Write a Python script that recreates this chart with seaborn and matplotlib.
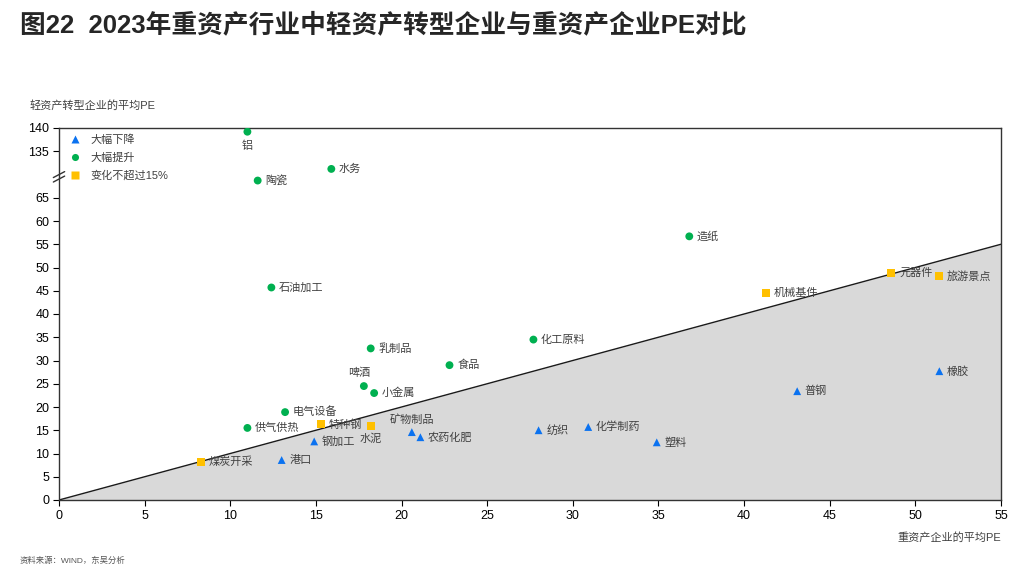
import numpy as np
import pandas as pd
import matplotlib
matplotlib.use('Agg')
import matplotlib.pyplot as plt
import seaborn as sns

# 数据（从图上读取，纵轴在65~135之间压缩）
names = ['铝', '陶瓷', '水务', '造纸', '石油加工', '化工原料', '乳制品', '食品', '啤酒', '小金属',
         '电气设备', '供气供热',
         '煤炭开采', '特种钢', '水泥', '机械基件', '元器件', '旅游景点',
         '钢加工', '港口', '矿物制品', '农药化肥', '纺织', '化学制药', '塑料', '普钢', '橡胶']
heavy_pe = [11.0, 11.6, 15.9, 36.8, 12.4, 27.7, 18.2, 22.8, 17.8, 18.4,
            13.2, 11.0,
            8.3, 15.3, 18.2, 41.3, 48.6, 51.4,
            14.9, 13.0, 20.6, 21.1, 28.0, 30.9, 34.9, 43.1, 51.4]
light_pe = [139.2, 90.9, 108.4, 56.7, 45.7, 34.5, 32.6, 29.0, 24.5, 23.0,
            18.9, 15.5,
            8.2, 16.3, 15.9, 44.6, 48.9, 48.1,
            12.6, 8.6, 14.6, 13.5, 15.0, 15.7, 12.4, 23.4, 27.7]
groups = ['大幅提升'] * 12 + ['变化不超过15%'] * 6 + ['大幅下降'] * 9
group_order = ['大幅下降', '大幅提升', '变化不超过15%']
yticks = [0, 5, 10, 15, 20, 25, 30, 35, 40, 45, 50, 55, 60, 65, 135, 140]
xticks = list(range(0, 60, 5))

df = pd.DataFrame({'name': names, 'x': heavy_pe, 'y': light_pe, 'group': groups})

sns.set_style('white')
plt.rcParams['font.family'] = ['Liberation Sans', 'Noto Sans CJK SC', 'DejaVu Sans']
plt.rcParams['axes.unicode_minus'] = False

# 断轴：65~135 压缩
real_pts = [-100, 0, 65, 135, 300]
disp_pts = [-100, 0, 65, 75, 240]


def fwd(v):
    return np.interp(v, real_pts, disp_pts)


def inv(v):
    return np.interp(v, disp_pts, real_pts)


fig = plt.figure(figsize=(10.24, 5.72), dpi=100)
ax = fig.add_axes([59 / 1024, 1 - 500 / 572, 942 / 1024, 372 / 572])
ax.set_yscale('function', functions=(fwd, inv))
ax.set_xlim(0, 55)
ax.set_ylim(0, 140)

# 对角线及下方灰色区域
diag = np.array(ax.get_xlim())
ax.fill_between(diag, diag, 0, color='#d9d9d9', zorder=0, lw=0)
ax.plot(diag, diag, color='#1a1a1a', lw=1, zorder=1)

palette = {'大幅下降': '#0b72f0', '大幅提升': '#00b050', '变化不超过15%': '#ffc000'}
markers = {'大幅下降': '^', '大幅提升': 'o', '变化不超过15%': 's'}
sns.scatterplot(data=df, x='x', y='y', hue='group', style='group', hue_order=group_order,
                style_order=group_order, palette=palette, markers=markers, s=32,
                edgecolor='none', ax=ax, zorder=3)

# 标签位置
label_pos = {'铝': ((0, -6), 'center', 'top'),
             '啤酒': ((-3, 6), 'center', 'bottom'),
             '水泥': ((0, -5), 'center', 'top'),
             '矿物制品': ((0, 5), 'center', 'bottom')}
for n, xv, yv in zip(names, heavy_pe, light_pe):
    off, ha, va = label_pos.get(n, ((5.5, 0), 'left', 'center'))
    ax.annotate(n, (xv, yv), xytext=off, textcoords='offset points', ha=ha, va=va,
                fontsize=8, color='#404040', zorder=4)

ax.set_xticks(xticks)
ax.set_yticks(yticks)
ax.set_yticklabels([str(t) for t in yticks])
ax.minorticks_off()
ax.tick_params(axis='both', direction='out', length=4, width=0.8, labelsize=9,
               colors='black', pad=3, left=True, bottom=True)
for sp in ax.spines.values():
    sp.set_color('#333333')
    sp.set_linewidth(1)
ax.set_xlabel('')
ax.set_ylabel('')

# 断轴标记
for dy in (-0.006, 0.006):
    yb = (69.5 / 80) + dy
    ax.plot([-0.006, 0.006], [yb - 0.008, yb + 0.008], transform=ax.transAxes,
            color='#333333', lw=1, clip_on=False, zorder=5)

leg = ax.legend(loc='upper left', frameon=False, fontsize=8, handlelength=1.0,
                handletextpad=0.9, labelspacing=0.7, borderaxespad=0.5, markerscale=0.9,
                bbox_to_anchor=(0.0, 1.01))
for t in leg.get_texts():
    t.set_color('#404040')

fig.text(20 / 1024, 1 - 25 / 572, '图22  2023年重资产行业中轻资产转型企业与重资产企业PE对比',
         fontsize=18.5, fontweight='bold', ha='left', va='center')
fig.text(30 / 1024, 1 - 106 / 572, '轻资产转型企业的平均PE', fontsize=8, color='#404040',
         ha='left', va='center')
fig.text(1001 / 1024, 1 - 537 / 572, '重资产企业的平均PE', fontsize=8, color='#404040',
         ha='right', va='center')
fig.text(20 / 1024, 1 - 561 / 572, '资料来源：WIND，东吴分析', fontsize=6, color='#555555',
         ha='left', va='center')

fig.savefig('out.png', dpi=100)
